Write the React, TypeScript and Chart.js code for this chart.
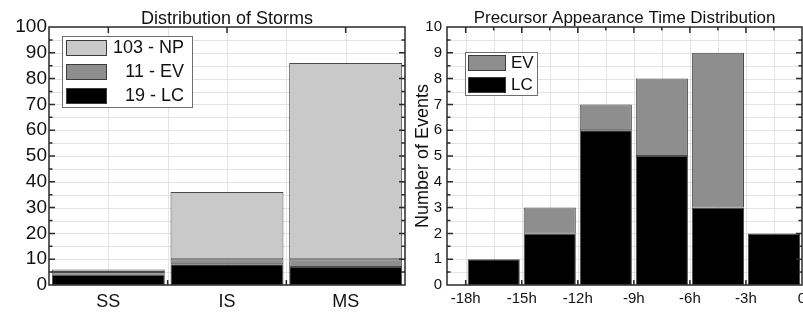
import React, { useEffect, useRef } from "react";
import { Chart, registerables } from "chart.js";

Chart.register(...registerables);

// ---------- data ----------
const stormCategories = ["SS", "IS", "MS"];
const stormLC = [4, 8, 7];
const stormEV = [1, 2, 3];
const stormNP = [1, 26, 76];
const stormLabels = ["19 - LC", "11 - EV", "103 - NP"];

const binCenters = [-16.5, -13.5, -10.5, -7.5, -4.5, -1.5];
const precursorLC = [1, 2, 6, 5, 3, 2];
const precursorEV = [0, 1, 1, 3, 6, 0];
const precursorLabels = ["LC", "EV"];
const hourTicks = [-18, -15, -12, -9, -6, -3, 0];

// ---------- styles ----------
const FONT = "'Liberation Sans', Arial, Helvetica, sans-serif";
const TEXT = "#111111";
const GRID = "#e3e3e3";
const FRAME = "#2a2a2a";
const C_LC = "#000000";
const C_EV = "#8e8e8e";
const C_NP = "#c9c9c9";
const BAR_BORDER = "#4a4a4a";

function range(a: number, b: number, step: number): number[] {
  const out: number[] = [];
  for (let v = a; v <= b + 1e-9; v += step) out.push(Math.round(v * 1000) / 1000);
  return out;
}

type FrameSpec = {
  vGrid: number[];
  hGrid: number[];
  side: [number, number][];
  top: [number, number][];
  bottom: [number, number][];
};

function framePlugin(spec: FrameSpec) {
  return {
    id: "frameGrid",
    beforeDatasetsDraw(chart: any) {
      const { ctx, chartArea: a, scales } = chart;
      ctx.save();
      ctx.strokeStyle = GRID;
      ctx.lineWidth = 1;
      spec.vGrid.forEach((v) => {
        const x = Math.round(scales.x.getPixelForValue(v)) + 0.5;
        ctx.beginPath();
        ctx.moveTo(x, a.top);
        ctx.lineTo(x, a.bottom);
        ctx.stroke();
      });
      spec.hGrid.forEach((v) => {
        const y = Math.round(scales.y.getPixelForValue(v)) + 0.5;
        ctx.beginPath();
        ctx.moveTo(a.left, y);
        ctx.lineTo(a.right, y);
        ctx.stroke();
      });
      ctx.restore();
    },
    afterDatasetsDraw(chart: any) {
      const { ctx, chartArea: a, scales } = chart;
      ctx.save();
      ctx.strokeStyle = FRAME;
      ctx.lineWidth = 1.5;
      ctx.strokeRect(a.left, a.top, a.right - a.left, a.bottom - a.top);
      ctx.beginPath();
      spec.side.forEach(([v, len]) => {
        const y = scales.y.getPixelForValue(v);
        ctx.moveTo(a.left, y);
        ctx.lineTo(a.left + len, y);
        ctx.moveTo(a.right, y);
        ctx.lineTo(a.right - len, y);
      });
      spec.top.forEach(([v, len]) => {
        const x = scales.x.getPixelForValue(v);
        ctx.moveTo(x, a.top);
        ctx.lineTo(x, a.top + len);
      });
      spec.bottom.forEach(([v, len]) => {
        const x = scales.x.getPixelForValue(v);
        ctx.moveTo(x, a.bottom);
        ctx.lineTo(x, a.bottom - len);
      });
      ctx.stroke();
      ctx.restore();
    },
  };
}

type LegendSpec = {
  dx: number;
  dy: number;
  w: number;
  h: number;
  pad: number;
  rowStep: number;
  swW: number;
  swH: number;
  textX: number;
  align: "left" | "right";
  fontSize: number;
};

function legendPlugin(spec: LegendSpec) {
  return {
    id: "boxLegend",
    afterDraw(chart: any) {
      const { ctx, chartArea: a } = chart;
      const x0 = a.left + spec.dx;
      const y0 = a.top + spec.dy;
      ctx.save();
      ctx.fillStyle = "#ffffff";
      ctx.fillRect(x0, y0, spec.w, spec.h);
      ctx.strokeStyle = "#6e6e6e";
      ctx.lineWidth = 1;
      ctx.strokeRect(x0 + 0.5, y0 + 0.5, spec.w, spec.h);
      const items = chart.data.datasets.slice().reverse();
      ctx.font = `${spec.fontSize}px ${FONT}`;
      ctx.textBaseline = "middle";
      ctx.textAlign = spec.align;
      items.forEach((ds: any, i: number) => {
        const ry = y0 + spec.pad + i * spec.rowStep;
        ctx.fillStyle = ds.backgroundColor;
        ctx.fillRect(x0 + spec.pad, ry, spec.swW, spec.swH);
        ctx.strokeStyle = "#3c3c3c";
        ctx.strokeRect(x0 + spec.pad + 0.5, ry + 0.5, spec.swW - 1, spec.swH - 1);
        ctx.fillStyle = TEXT;
        ctx.fillText(ds.label, x0 + spec.textX, ry + spec.swH / 2 + 0.5);
      });
      ctx.restore();
    },
  };
}

function StormChart() {
  const ref = useRef<HTMLCanvasElement | null>(null);
  useEffect(() => {
    if (!ref.current) return;
    const mk = (label: string, data: number[], color: string) => ({
      label,
      data,
      backgroundColor: color,
      borderColor: BAR_BORDER,
      borderWidth: 1,
      borderSkipped: false,
    });
    const chart = new Chart(ref.current, {
      type: "bar",
      data: {
        labels: stormCategories,
        datasets: [
          mk(stormLabels[0], stormLC, C_LC),
          mk(stormLabels[1], stormEV, C_EV),
          mk(stormLabels[2], stormNP, C_NP),
        ],
      },
      options: {
        animation: false,
        responsive: false,
        maintainAspectRatio: false,
        layout: { padding: { left: 0, right: 1, top: 0, bottom: 0 } },
        datasets: { bar: { categoryPercentage: 1, barPercentage: 0.952 } },
        plugins: {
          legend: { display: false },
          tooltip: { enabled: false },
          title: {
            display: true,
            text: "Distribution of Storms",
            fullSize: false,
            color: TEXT,
            font: { family: FONT, size: 18, weight: "normal", lineHeight: 0.9 },
            padding: { top: 10.5, bottom: 0.3 },
          },
        },
        scales: {
          x: {
            stacked: true,
            grid: { display: false, drawTicks: false },
            border: { display: false },
            ticks: { color: TEXT, font: { family: FONT, size: 18 }, padding: 6 },
            afterFit: (s: any) => {
              s.height = 27;
            },
          },
          y: {
            stacked: true,
            min: 0,
            max: 100,
            grid: { display: false, drawTicks: false },
            border: { display: false },
            ticks: { stepSize: 10, color: TEXT, font: { family: FONT, size: 19 }, padding: 2 },
            afterFit: (s: any) => {
              s.width = 49;
            },
          },
        },
      } as any,
      plugins: [
        framePlugin({
          vGrid: [0, 0.5, 1, 1.5, 2],
          hGrid: range(5, 95, 5),
          side: range(5, 95, 5).map((v) => [v, v % 10 === 0 ? 6 : 3.5] as [number, number]),
          top: [0, 1, 2].map((v) => [v, 6] as [number, number]),
          bottom: [0.5, 1.5].map((v) => [v, 5] as [number, number]),
        }),
        legendPlugin({
          dx: 13,
          dy: 9,
          w: 130,
          h: 71,
          pad: 4,
          rowStep: 24,
          swW: 41,
          swH: 16,
          textX: 122,
          align: "right",
          fontSize: 18,
        }),
      ],
    });
    return () => chart.destroy();
  }, []);
  return (
    <canvas
      ref={ref}
      width={406}
      height={312}
      style={{ position: "absolute", left: 0, top: 0, width: 406, height: 312 }}
    />
  );
}

function PrecursorChart() {
  const ref = useRef<HTMLCanvasElement | null>(null);
  useEffect(() => {
    if (!ref.current) return;
    const mk = (label: string, data: number[], color: string) => ({
      label,
      data: binCenters.map((x, i) => ({ x, y: data[i] })),
      backgroundColor: color,
      borderColor: BAR_BORDER,
      borderWidth: 1,
      borderSkipped: false,
    });
    const chart = new Chart(ref.current, {
      type: "bar",
      data: {
        datasets: [
          mk(precursorLabels[0], precursorLC, C_LC),
          mk(precursorLabels[1], precursorEV, C_EV),
        ],
      },
      options: {
        animation: false,
        responsive: false,
        maintainAspectRatio: false,
        layout: { padding: { left: 0, right: 24, top: 0, bottom: 0 } },
        datasets: { bar: { categoryPercentage: 1, barPercentage: 0.93 } },
        plugins: {
          legend: { display: false },
          tooltip: { enabled: false },
          title: {
            display: true,
            text: "Precursor Appearance Time Distribution",
            fullSize: false,
            color: TEXT,
            font: { family: FONT, size: 17, weight: "normal", lineHeight: 0.9 },
            padding: { top: 11, bottom: 0.7 },
          },
        },
        scales: {
          x: {
            type: "linear",
            stacked: true,
            offset: false,
            min: -19,
            max: 0,
            grid: { display: false, drawTicks: false, offset: false },
            border: { display: false },
            afterBuildTicks: (s: any) => {
              s.ticks = hourTicks.map((v) => ({ value: v }));
            },
            ticks: {
              color: TEXT,
              font: { family: FONT, size: 15 },
              padding: 5,
              maxRotation: 0,
              autoSkip: false,
              callback: (v: any) => (Number(v) === 0 ? "0" : `${v}h`),
            },
            afterFit: (s: any) => {
              s.height = 27;
            },
          },
          y: {
            stacked: true,
            min: 0,
            max: 10,
            grid: { display: false, drawTicks: false },
            border: { display: false },
            ticks: { stepSize: 1, color: TEXT, font: { family: FONT, size: 15 }, padding: 5 },
            title: {
              display: true,
              text: "Number of Events",
              color: TEXT,
              font: { family: FONT, size: 18 },
              padding: { top: 6, bottom: 0 },
            },
            afterFit: (s: any) => {
              s.width = 41;
            },
          },
        },
      } as any,
      plugins: [
        framePlugin({
          vGrid: range(-18, -1.5, 1.5),
          hGrid: range(0.5, 9.5, 0.5),
          side: range(0.5, 9.5, 0.5).map(
            (v) => [v, Number.isInteger(v) ? 6 : 3.5] as [number, number]
          ),
          top: range(-18, -1.5, 1.5).map(
            (v) => [v, v % 3 === 0 ? 6 : 3.5] as [number, number]
          ),
          bottom: range(-18, -3, 3).map((v) => [v, 5] as [number, number]),
        }),
        legendPlugin({
          dx: 18,
          dy: 25,
          w: 72,
          h: 43,
          pad: 3,
          rowStep: 22,
          swW: 38,
          swH: 16,
          textX: 46,
          align: "left",
          fontSize: 17,
        }),
      ],
    });
    return () => chart.destroy();
  }, []);
  return (
    <canvas
      ref={ref}
      width={420}
      height={312}
      style={{ position: "absolute", left: 406, top: 0, width: 420, height: 312 }}
    />
  );
}

export default function App() {
  return (
    <div
      style={{
        position: "fixed",
        left: 0,
        top: 0,
        width: 803,
        height: 312,
        overflow: "hidden",
        background: "#ffffff",
      }}
    >
      <StormChart />
      <PrecursorChart />
    </div>
  );
}
